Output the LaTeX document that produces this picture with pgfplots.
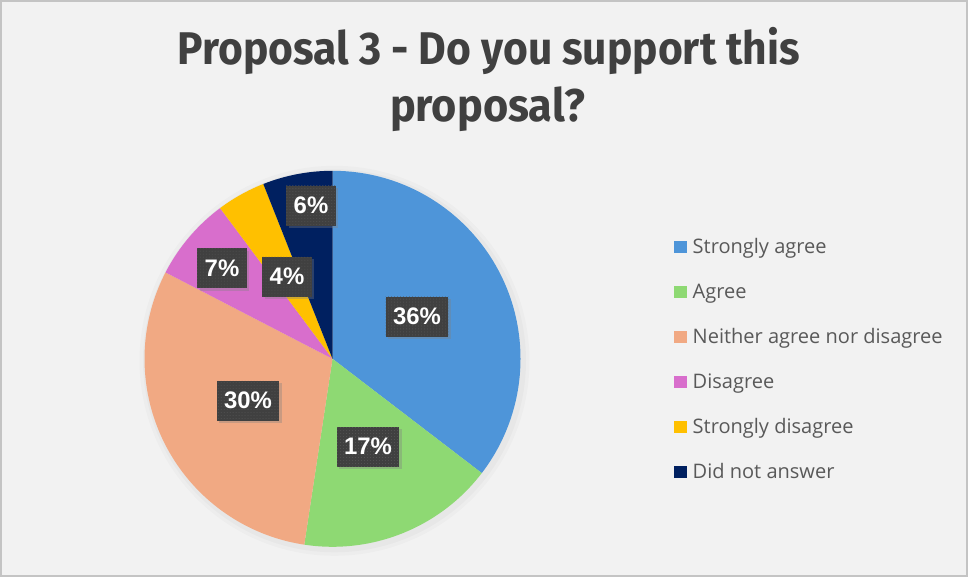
\documentclass[border=0pt]{standalone}
\usepackage{pgfplots}
\pgfplotsset{compat=1.18}
\usepackage{pgfplotstable}
\usepackage{graphicx}
\usepackage{fontspec}
\usetikzlibrary{patterns,shadows}
\setmainfont{Liberation Sans}
\newfontfamily\titlefont{Fira Sans}
\newfontfamily\legfont{Open Sans}

\definecolor{cSA}{HTML}{4E95D9}
\definecolor{cA}{HTML}{8ED973}
\definecolor{cN}{HTML}{F1A983}
\definecolor{cD}{HTML}{D86ECC}
\definecolor{cSD}{HTML}{FFC000}
\definecolor{cNA}{HTML}{002060}
\definecolor{bgcol}{HTML}{F2F2F2}
\definecolor{bordercol}{HTML}{C4C4C4}
\definecolor{titlecol}{HTML}{404040}
\definecolor{legcol}{HTML}{595959}
\definecolor{boxcol}{HTML}{404040}
\definecolor{dotcol}{HTML}{565656}

\tikzset{lbl/.style={fill=boxcol, text=white, font=\bfseries\fontsize{24}{24}\selectfont,
    inner xsep=7.5bp, inner ysep=0pt, minimum height=40bp,
    drop shadow={shadow xshift=2.5bp, shadow yshift=-2.5bp, opacity=0.35},
    postaction={pattern=dots, pattern color=dotcol}}}

% value = share in percent, pct = printed label, (lx,ly) = label centre
\pgfplotstableread{
value pct lx ly col
35.4 36 417 260.3 cSA
17.0 17 368 130.3 cA
30.2 30 248 176.3 cN
7.2 7 222 308.7 cD
4.2 4 287 300.3 cSD
6.0 6 311 371.3 cNA
}\piedata

\begin{document}
\begin{tikzpicture}
\begin{axis}[
  width=968bp, height=577bp, scale only axis, hide axis,
  xmin=0, xmax=968, ymin=0, ymax=577, clip=false,
]
% background and frame
\fill[bgcol] (axis cs:0,0) rectangle (axis cs:968,577);
\draw[bordercol, line width=1.8bp] (axis cs:1.2,1.2) rectangle (axis cs:966.8,575.8);

% soft pie shadow
\fill[black, opacity=0.02] (axis cs:334.5,216.2) circle[radius=195bp];
\fill[black, opacity=0.025] (axis cs:334.5,216.2) circle[radius=191.5bp];

% wedges
\gdef\cum{90}
\foreach \i in {0,...,5}{
  \pgfplotstablegetelem{\i}{value}\of\piedata \let\v\pgfplotsretval
  \pgfplotstablegetelem{\i}{col}\of\piedata \let\colname\pgfplotsretval
  \pgfmathsetmacro\a{\cum}
  \pgfmathsetmacro\b{\cum-3.6*\v}
  \edef\cmd{\noexpand\fill[\colname] (axis cs:332.5,218.2) -- ([shift={(\a:188bp)}]axis cs:332.5,218.2) arc[start angle=\a, end angle=\b, radius=188bp] -- cycle;}
  \cmd
  \xdef\cum{\b}
}

% data labels
\foreach \i in {0,...,5}{
  \pgfplotstablegetelem{\i}{pct}\of\piedata \let\p\pgfplotsretval
  \pgfplotstablegetelem{\i}{lx}\of\piedata \let\lx\pgfplotsretval
  \pgfplotstablegetelem{\i}{ly}\of\piedata \let\ly\pgfplotsretval
  \edef\cmd{\noexpand\node[lbl] at (axis cs:\lx,\ly) {\p\noexpand\%};}
  \cmd
}

% title
\node[anchor=base, text=titlecol, font=\titlefont\bfseries\fontsize{46}{46}\selectfont]
  at (axis cs:489,512) {\resizebox{622bp}{\height}{Proposal 3 - Do you support this}};
\node[anchor=base, text=titlecol, font=\titlefont\bfseries\fontsize{46}{46}\selectfont]
  at (axis cs:487.5,455) {\resizebox{195bp}{\height}{proposal?}};

% legend
\foreach \col/\lab [count=\k from 0] in {cSA/Strongly agree, cA/Agree, cN/Neither agree nor disagree, cD/Disagree, cSD/Strongly disagree, cNA/Did not answer}{
  \pgfmathsetmacro\yy{577-247.2-45*\k}
  \pgfmathsetmacro\ylo{\yy-6.2}
  \pgfmathsetmacro\yhi{\yy+6.2}
  \edef\cmd{\noexpand\fill[\col] (axis cs:674.3,\ylo) rectangle (axis cs:686.7,\yhi);
    \noexpand\node[anchor=base west, inner sep=0pt, text=legcol, font=\noexpand\legfont\noexpand\fontsize{20.1}{21}\noexpand\selectfont] at (axis cs:692.5,\ylo) {\lab};}
  \cmd
}
\end{axis}
\end{tikzpicture}
\end{document}
